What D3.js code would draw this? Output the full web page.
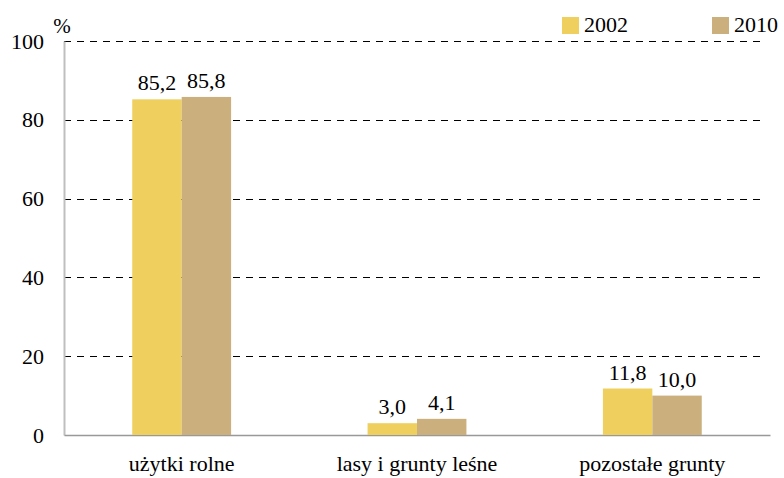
<!DOCTYPE html>
<html><head><meta charset="utf-8">
<script src="https://cdn.jsdelivr.net/npm/d3@7"></script>
<style>body{margin:0;background:#fff}svg{display:block}</style>
</head><body>
<script>
const categories = ["użytki rolne", "lasy i grunty leśne", "pozostałe grunty"];
const seriesNames = ["2002", "2010"];
const values2002 = [85.2, 3.0, 11.8];
const values2010 = [85.8, 4.1, 10.0];
const yTicks = [0, 20, 40, 60, 80, 100];
const colors = ["#EFD05E", "#CBB07E"];
const FONT = "'Liberation Serif', 'Times New Roman', Tinos, 'DejaVu Serif', serif";

const W = 784, H = 478;
const m = {left: 64, right: 14, top: 41, bottom: 43};
const svg = d3.select("body").append("svg").attr("width", W).attr("height", H)
  .style("font-family", FONT);

const x = d3.scaleBand().domain(categories).range([m.left, W - m.right]).paddingInner(0.58).paddingOuter(0.29);
const xs = d3.scaleBand().domain(seriesNames).range([0, x.bandwidth()]);
const y = d3.scaleLinear().domain([0, 100]).range([H - m.bottom, m.top]);

svg.append("g").selectAll("line").data(yTicks.filter(d => d > 0)).join("line")
  .attr("x1", m.left).attr("x2", W - m.right - 8)
  .attr("y1", d => Math.round(y(d)) + 0.5).attr("y2", d => Math.round(y(d)) + 0.5)
  .attr("stroke", "#000").attr("stroke-width", 1).attr("stroke-dasharray", "7,6");

const ya = svg.append("g").attr("transform", `translate(${m.left},0)`)
  .call(d3.axisLeft(y).tickValues(yTicks).tickSize(0).tickPadding(20));
ya.attr("font-family", null);
ya.select(".domain").attr("stroke", "#bfbfbf").attr("stroke-width", 2);
ya.selectAll("text").attr("font-size", 22).style("font-family", FONT).attr("fill", "#000");

const xa = svg.append("g").attr("transform", `translate(0,${y(0)})`)
  .call(d3.axisBottom(x).tickSize(0).tickPadding(20));
xa.attr("font-family", null);
xa.select(".domain").attr("stroke", "#999").attr("stroke-width", 1.5);
xa.selectAll("text").attr("font-size", 22).style("font-family", FONT).attr("fill", "#000");

const data = categories.map((c, i) => ({c, vals: [values2002[i], values2010[i]]}));
const g = svg.append("g").selectAll("g").data(data).join("g")
  .attr("transform", d => `translate(${x(d.c)},0)`);
g.selectAll("rect").data(d => d.vals.map((v, j) => ({s: seriesNames[j], v, j}))).join("rect")
  .attr("x", d => xs(d.s)).attr("width", xs.bandwidth())
  .attr("y", d => y(d.v)).attr("height", d => y(0) - y(d.v))
  .attr("fill", d => colors[d.j]);
g.selectAll("text.val").data(d => d.vals.map((v, j) => ({s: seriesNames[j], v, j}))).join("text")
  .attr("class", "val")
  .attr("x", d => xs(d.s) + xs.bandwidth() / 2).attr("y", d => y(d.v) - 9)
  .attr("text-anchor", "middle").attr("font-size", 22)
  .text(d => d.v.toFixed(1).replace(".", ","));

svg.append("text").attr("x", 62).attr("y", 33).attr("text-anchor", "middle").attr("font-size", 21).text("%");

const legX = [562, 712];
seriesNames.forEach((s, i) => {
  svg.append("rect").attr("x", legX[i]).attr("y", 17).attr("width", 17).attr("height", 17).attr("fill", colors[i]);
  svg.append("text").attr("x", legX[i] + 22).attr("y", 32).attr("font-size", 22).text(s);
});
</script>
</body></html>
